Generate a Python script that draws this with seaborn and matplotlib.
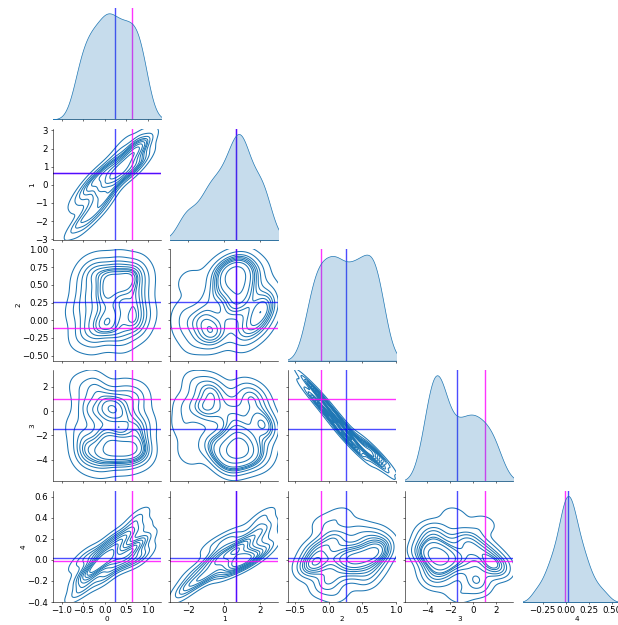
import matplotlib
matplotlib.use("Agg")
import matplotlib.pyplot as plt
import pandas as pd
import seaborn as sns

# samples read off the shapes of the reference (approximate)
s0 = [-0.68, -0.60, -0.55, -0.52, -0.45, -0.40, -0.35, -0.33, -0.27, -0.22,
      -0.20, -0.16, -0.10, -0.05, -0.02, 0.00, 0.05, 0.08, 0.10, 0.14,
      0.18, 0.22, 0.26, 0.30, 0.34, 0.38, 0.42, 0.46, 0.50, 0.54,
      0.58, 0.62, 0.66, 0.70, 0.74, 0.78, 0.82, 0.86, 0.90, 0.95]
s1 = [-2.3, -0.6, -2.0, -0.9, -2.2, 0.1, -1.2, -0.2, -1.7, -0.5,
      0.5, -0.9, 0.3, -1.3, 0.1, 0.9, -0.7, 0.1, 0.9, -0.4,
      0.7, 0.2, 1.2, 0.7, 1.0, 2.1, 0.5, 1.1, 0.8, 1.8,
      1.3, 0.8, 1.9, 2.4, 1.0, 2.1, 1.6, 2.2, 1.3, 2.2]
s2 = [0.12, -0.25, 0.55, 0.30, -0.10, 0.72, 0.05, 0.40, -0.30, 0.65,
      0.20, -0.18, 0.78, 0.00, 0.48, 0.35, -0.05, 0.60, 0.25, -0.22,
      0.70, 0.10, 0.45, -0.15, 0.80, 0.15, 0.52, -0.28, 0.38, 0.68,
      0.02, 0.58, -0.08, 0.28, 0.75, 0.18, -0.12, 0.42, 0.62, 0.08]
s3 = [-1.3, 2.0, -3.5, -2.6, 0.3, -4.1, 0.1, -2.4, 2.3, -3.4,
      -1.0, 1.7, -4.4, 0.4, -3.3, -2.0, -0.1, -3.7, -2.2, 1.1,
      -3.3, -0.3, -2.7, 0.6, -4.0, -0.6, -2.8, 1.6, -3.0, -3.9,
      -0.5, -2.9, 0.9, -1.5, -3.6, -1.7, 1.3, -3.2, -3.1, -0.9]
s4 = [-0.33, -0.03, -0.21, -0.14, -0.27, 0.06, -0.17, -0.08, -0.11, 0.03,
      -0.04, -0.07, 0.07, -0.19, -0.01, 0.04, 0.14, -0.12, 0.00, 0.08,
      -0.06, 0.22, 0.01, 0.11, 0.17, 0.06, 0.20, -0.03, 0.03, 0.25,
      -0.01, 0.10, 0.34, 0.14, 0.13, 0.42, 0.01, 0.30, 0.07, 0.21]

blue_vals = [0.23, 0.65, 0.26, -1.45, 0.02]
magenta_vals = [0.62, 0.65, -0.11, 1.0, -0.01]

names = ["0", "1", "2", "3", "4"]
df = pd.DataFrame(dict(zip(names, [s0, s1, s2, s3, s4])))

plt.rcParams["xtick.labelsize"] = 12.5
plt.rcParams["ytick.labelsize"] = 12.5
plt.rcParams["xtick.major.pad"] = 2.5
plt.rcParams["axes.labelsize"] = 10.5
plt.rcParams["axes.labelpad"] = 0.5

g = sns.pairplot(df, kind="kde", diag_kind="kde", corner=True, height=2.5,
                 plot_kws=dict(bw_adjust=0.8), diag_kws=dict(bw_adjust=0.8))

for i in range(5):
    for j in range(i + 1):
        ax = g.axes[i, j]
        ax.axvline(magenta_vals[j], color="magenta", lw=2, alpha=0.8)
        ax.axvline(blue_vals[j], color="blue", lw=2, alpha=0.7)
        if i != j:
            ax.axhline(magenta_vals[i], color="magenta", lw=2, alpha=0.8)
            ax.axhline(blue_vals[i], color="blue", lw=2, alpha=0.7)

xlims = [(-1.2, 1.3), (-3.0, 3.0), (-0.6, 1.0), (-5.9, 3.5), (-0.46, 0.70)]
xticks = [[-1.0, -0.5, 0.0, 0.5, 1.0], [-2, 0, 2], [-0.5, 0.0, 0.5, 1.0],
          [-4, -2, 0, 2], [-0.25, 0.0, 0.25, 0.5]]
ylims = [None, (-3.05, 3.1), (-0.57, 1.0), (-5.8, 3.4), (-0.4, 0.66)]
yticks = [None, [-3, -2, -1, 0, 1, 2, 3], [-0.5, -0.25, 0.0, 0.25, 0.5, 0.75, 1.0],
          [-4, -2, 0, 2], [-0.4, -0.2, 0.0, 0.2, 0.4, 0.6]]
for j in range(5):
    g.axes[4, j].set_xlim(xlims[j])
    g.axes[4, j].set_xticks(xticks[j])
for i in range(1, 5):
    g.axes[i, 0].set_ylim(ylims[i])
    g.axes[i, 0].set_yticks(yticks[i])

g.figure.set_size_inches(12.36, 12.5)
g.figure.subplots_adjust(left=53 / 618, right=631 / 618, bottom=1 - 602 / 625,
                         top=1 - 8 / 625, wspace=9.5 / 108, hspace=9.3 / 112)
g.figure.savefig("out.png", dpi=50)
